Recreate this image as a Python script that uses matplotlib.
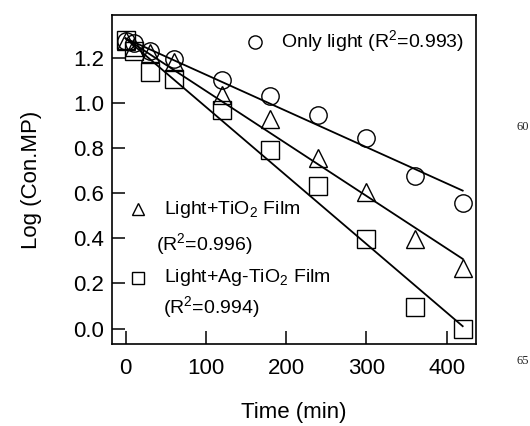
import matplotlib
matplotlib.use("Agg")
import matplotlib.pyplot as plt
import numpy as np

plt.rcParams['font.family'] = ['Liberation Sans', 'DejaVu Sans']
plt.rcParams['mathtext.fontset'] = 'custom'
plt.rcParams['mathtext.rm'] = 'Liberation Sans'

time_min = [0, 10, 30, 60, 120, 180, 240, 300, 360, 420]
only_light = [1.275, 1.265, 1.229, 1.193, 1.10, 1.031, 0.946, 0.842, 0.677, 0.558]
light_tio2 = [1.275, 1.245, 1.22, 1.18, 1.035, 0.928, 0.756, 0.605, 0.397, 0.268]
light_agtio2 = [1.28, 1.23, 1.136, 1.107, 0.966, 0.79, 0.63, 0.397, 0.096, 0.0]

fit_intercepts = [1.285, 1.285, 1.285]
fit_slopes = [-0.001605, -0.002325, -0.003035]
fit_range = [0, 420]

x_ticks = [0, 100, 200, 300, 400]
y_ticks = [0.0, 0.2, 0.4, 0.6, 0.8, 1.0, 1.2]

fig = plt.figure(figsize=(5.30, 4.26), dpi=100)
ax = fig.add_axes([0.2119, 0.1925, 0.6853, 0.7723])

mk = dict(mfc='none', mec='black', mew=1.0, ls='none', ms=12.5)
ax.plot(time_min, only_light, marker='o', **mk)
ax.plot(time_min, light_tio2, marker='^', **mk)
ax.plot(time_min, light_agtio2, marker='s', **mk)

xf = np.array(fit_range, dtype=float)
for b, m in zip(fit_intercepts, fit_slopes):
    ax.plot(xf, b + m * xf, color='black', lw=1.3)

ax.set_xlim(-16.7, 436)
ax.set_ylim(-0.0686, 1.389)
ax.set_xticks(x_ticks)
ax.set_yticks(y_ticks)
ax.set_yticklabels([f"{v:.1f}" for v in y_ticks])
ax.tick_params(direction='in', length=9.5, width=1.1, labelsize=16,
               top=False, right=False)
ax.tick_params(axis='x', pad=10)
ax.tick_params(axis='y', pad=6)
for s in ax.spines.values():
    s.set_linewidth(1.2)

ax.set_xlabel("Time (min)", fontsize=16, labelpad=17)
ax.set_ylabel("Log (Con.MP)", fontsize=16, labelpad=22)

# in-plot legend
lk = dict(mfc='none', mec='black', mew=1.0, ls='none', transform=ax.transAxes,
          clip_on=False)
fs = 14
ax.plot([0.392], [0.918], marker='o', ms=9.5, **lk)
ax.text(0.464, 0.918, "Only light (R$^2$=0.993)", transform=ax.transAxes,
        fontsize=fs, va='center', ha='left')
ax.plot([0.072], [0.409], marker='^', ms=8, **lk)
ax.text(0.142, 0.409, "Light+TiO$_2$ Film", transform=ax.transAxes,
        fontsize=fs, va='center', ha='left')
ax.text(0.119, 0.302, "(R$^2$=0.996)", transform=ax.transAxes,
        fontsize=fs, va='center', ha='left')
ax.plot([0.072], [0.201], marker='s', ms=8, **lk)
ax.text(0.142, 0.201, "Light+Ag-TiO$_2$ Film", transform=ax.transAxes,
        fontsize=fs, va='center', ha='left')
ax.text(0.139, 0.110, "(R$^2$=0.994)", transform=ax.transAxes,
        fontsize=fs, va='center', ha='left')

# page line numbers at right edge
fig.text(529 / 530, 1 - 127 / 426, "60", fontsize=9, family='Liberation Serif',
         ha='right', va='center', color='#222222')
fig.text(529 / 530, 1 - 361 / 426, "65", fontsize=9, family='Liberation Serif',
         ha='right', va='center', color='#222222')

fig.savefig("out.png", dpi=100)
